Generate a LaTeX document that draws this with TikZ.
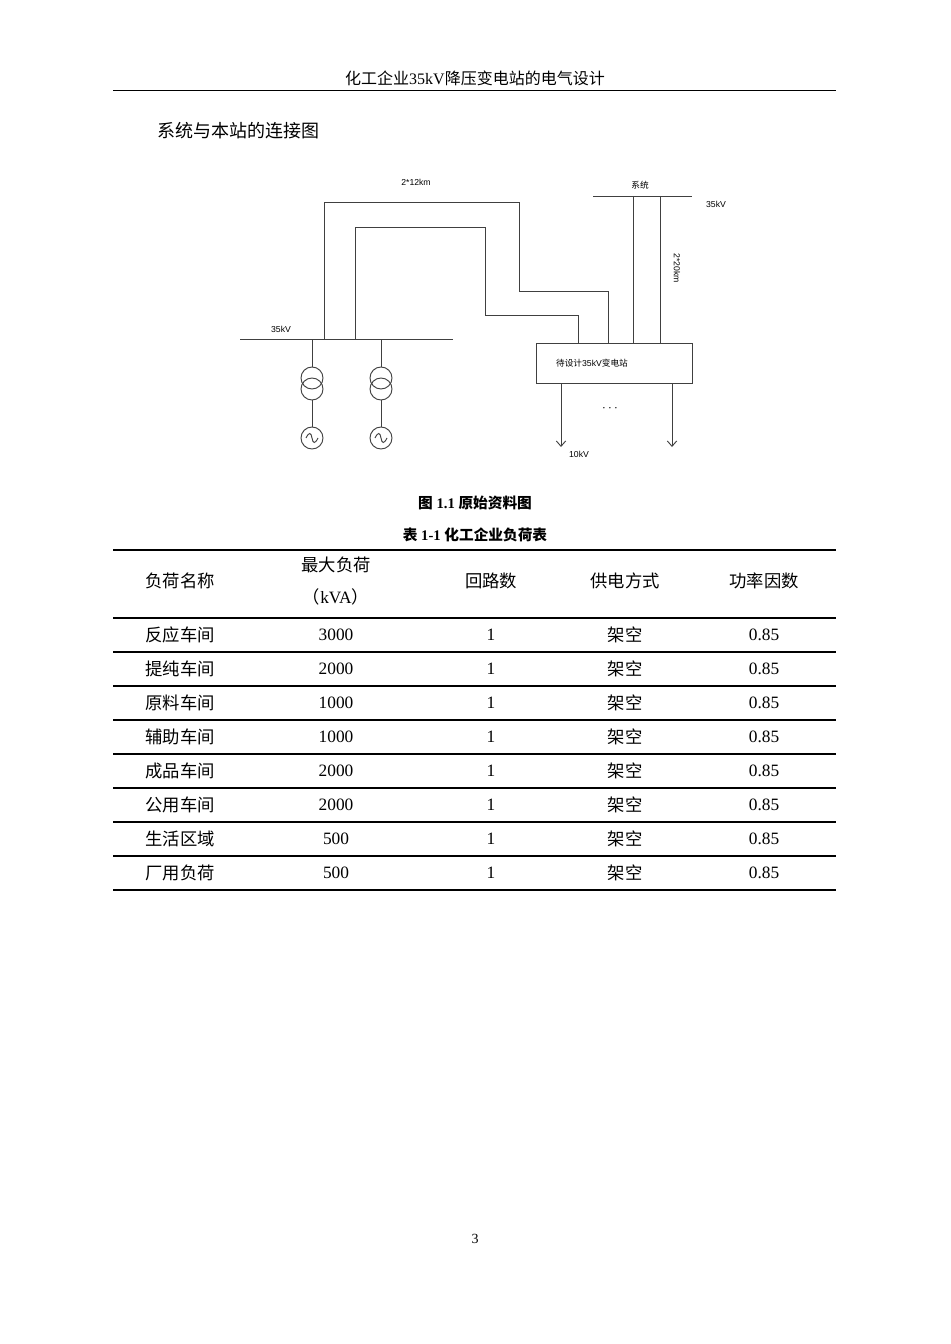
\documentclass[tikz,border=0pt]{standalone}
\usepackage{fontspec}
\usetikzlibrary{arrows.meta}
\setmainfont{Liberation Serif}
\newfontfamily\cjk{Noto Sans CJK SC}
\newcommand{\cjkb}{\cjk\bfseries}
\newfontfamily\arial{Liberation Sans}
\newcommand{\C}[1]{{\cjk #1}}
\begin{document}
\begin{tikzpicture}[x=0.75pt,y=-0.75pt,
  wire/.style={draw=black!75,line width=0.7pt},
  lbl/.style={font=\arial\fontsize{6.5}{7}\selectfont,inner sep=0},
  cell/.style={font=\fontsize{13}{15}\selectfont,inner sep=0},
  rule/.style={line width=1.2pt}]
\useasboundingbox (0,0) rectangle (950,1344);
\fill[white] (0,0) rectangle (950,1344);
% header
\node[cell,font=\fontsize{12}{14}\selectfont] (hd) at (475,78) {\C{化工企业}35kV\C{降压变电站的电气设计}};
\draw[line width=0.6pt] (113,90) -- (836,90);
\node[cell,font=\fontsize{13.5}{15}\selectfont,anchor=west] (sub) at (157,131) {\C{系统与本站的连接图}};
% diagram
\draw[wire] (240,339) -- (453,339);
\draw[wire] (324,339) |- (519,202) |- (608,291) -- (608,343);
\draw[wire] (355,339) |- (485,227) |- (578,315) -- (578,343);
\draw[wire] (593,196) -- (692,196);
\draw[wire] (633,196) -- (633,343);
\draw[wire] (660,196) -- (660,343);
\node[wire,rectangle,minimum width=156*0.75pt,minimum height=40*0.75pt,inner sep=0] (box) at (614,363) {};
\node[font=\cjk\fontsize{6.5}{7}\selectfont] (boxt) at (592,363) {待设计{\arial 35kV}变电站};
\foreach \x/\n in {312/a,381/b}{
  \draw[wire] (\x,339) -- (\x,367);
  \draw[wire] (\x,378) circle (11);
  \draw[wire] (\x,389) circle (11);
  \draw[wire] (\x,400) -- (\x,427);
  \draw[wire] (\x,438) circle (11);
  \draw[wire] (\x-6,438) .. controls (\x-3,432) and (\x-1,432) .. (\x,438) .. controls (\x+1,444) and (\x+3,444) .. (\x+6,438);
}
\draw[wire,-{Straight Barb[length=4pt,width=7pt]}] (561,383) -- (561,447);
\draw[wire,-{Straight Barb[length=4pt,width=7pt]}] (672,383) -- (672,447);
\node[lbl] (l1) at (416,182) {2*12km};
\node[lbl,font=\cjk\fontsize{6.5}{7}\selectfont] (l2) at (640,185) {系统};
\node[lbl] (l3) at (716,204) {35kV};
\node[lbl,rotate=-90] (l4) at (677,268) {2*20km};
\node[lbl] (l5) at (281,329) {35kV};
\node[lbl] (l6) at (579,454) {10kV};
\node[font=\fontsize{10}{10}\selectfont] (dots) at (610,409) {$\cdots$};
% captions
\node[cell,font=\fontsize{11}{13}\selectfont] (cap1) at (475,503) {{\cjkb 图} \textbf{1.1} {\cjkb 原始资料图}};
\node[cell,font=\fontsize{11}{13}\selectfont] (cap2) at (475,535) {{\cjkb 表} \textbf{1-1} {\cjkb 化工企业负荷表}};
% table
\draw[rule] (113,550) -- (836,550);
\foreach \y in {618,652,686,720,754,788,822,856}{\draw[line width=1pt] (113,\y) -- (836,\y);}
\draw[rule] (113,890) -- (836,890);
\node[cell] (h1) at (180,581) {\C{负荷名称}};
\node[cell] (h2a) at (336,565) {\C{最大负荷}};
\node[cell] (h2b) at (336,597) {\C{（}kVA\C{）}};
\node[cell] (h3) at (491,581) {\C{回路数}};
\node[cell] (h4) at (625,581) {\C{供电方式}};
\node[cell] (h5) at (764,581) {\C{功率因数}};
\foreach \nm/\v [count=\i] in {反应车间/3000,提纯车间/2000,原料车间/1000,辅助车间/1000,成品车间/2000,公用车间/2000,生活区域/500,厂用负荷/500}{
  \pgfmathsetmacro\yy{618+34*\i-17}
  \node[cell] (r\i a) at (180,\yy) {\C{\nm}};
  \node[cell] (r\i b) at (336,\yy) {\v};
  \node[cell] (r\i c) at (491,\yy) {1};
  \node[cell] (r\i d) at (625,\yy) {\C{架空}};
  \node[cell] (r\i e) at (764,\yy) {0.85};
}
\node[cell,font=\fontsize{10.5}{12}\selectfont] (pg) at (475,1239) {3};
\end{tikzpicture}
\end{document}
